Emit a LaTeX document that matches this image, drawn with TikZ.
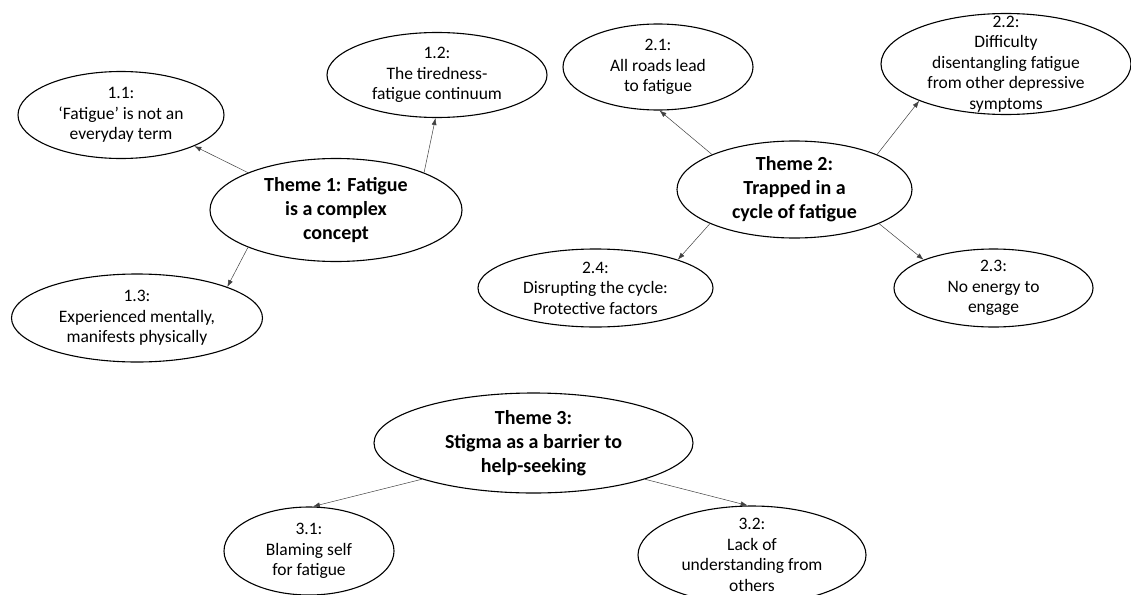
\documentclass[tikz,border=0pt]{standalone}
\usepackage{fontspec}
\setmainfont{Carlito}
\usetikzlibrary{shapes.geometric,arrows.meta}
\tikzset{
    sub/.style={ellipse, draw, line width=1.1pt, inner xsep=0pt, inner ysep=-4pt, align=center,
        font=\fontsize{17.5}{20.5}\selectfont},
    tall/.style={inner ysep=-14pt},
    theme/.style={sub, font=\bfseries\fontsize{20}{24}\selectfont},
    link/.style={-{Latex[length=7pt,width=5pt]}, draw=black!75, line width=0.5pt}
}
\begin{document}
\begin{tikzpicture}[x=1pt, y=-1pt]
            \useasboundingbox (0,0) rectangle (1131,594);
            \node[theme, minimum width=252pt, minimum height=103pt] (t1) at (336,210) {Theme 1: Fatigue\\is a complex\\concept};
            \node[sub, minimum width=206pt, minimum height=87pt] (s11) at (121,115) {1.1:\\‘Fatigue’ is not an\\everyday term};
            \node[sub, minimum width=220pt, minimum height=85pt] (s12) at (437,75) {1.2:\\The tiredness-\\fatigue continuum};
            \node[sub, minimum width=251pt, minimum height=88pt] (s13) at (137,318) {1.3:\\Experienced mentally,\\manifests physically};
            \node[theme, minimum width=235pt, minimum height=97pt] (t2) at (794.5,189.5) {Theme 2:\\Trapped in a\\cycle of fatigue};
            \node[sub, minimum width=190pt, minimum height=86pt] (s21) at (658,67) {2.1:\\All roads lead\\to fatigue};
            \node[sub, tall, minimum width=250pt, minimum height=101pt] (s22) at (1006,64) {2.2:\\Difficulty\\disentangling fatigue\\from other depressive\\symptoms};
            \node[sub, minimum width=199pt, minimum height=78pt] (s23) at (993.5,288) {2.3:\\No energy to\\engage};
            \node[sub, minimum width=235pt, minimum height=78pt] (s24) at (595.5,288) {2.4:\\Disrupting the cycle:\\Protective factors};
            \node[theme, minimum width=319pt, minimum height=100pt] (t3) at (533.5,443) {Theme 3:\\Stigma as a barrier to\\help-seeking};
            \node[sub, minimum width=170pt, minimum height=88pt] (s31) at (309,551) {3.1:\\Blaming self\\for fatigue};
            \node[sub, tall, minimum width=228pt, minimum height=98pt] (s32) at (752,555) {3.2:\\Lack of\\understanding from\\others};
            \draw[link] (t1.157) -- (s11.337);
            \draw[link] (t1.23) -- (s12.268);
            \draw[link] (t1.203) -- (s13.19);
            \draw[link] (t2.157) -- (s21.272);
            \draw[link] (t2.23) -- (s22.203);
            \draw[link] (t2.202) -- (s24.19);
            \draw[link] (t2.338) -- (s23.158);
            \draw[link] (t3.198) -- (s31.85);
            \draw[link] (t3.342) -- (s32.95);
        \end{tikzpicture}
\end{document}
